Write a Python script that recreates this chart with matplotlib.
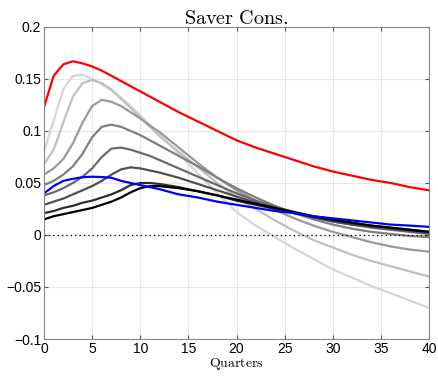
import matplotlib.pyplot as plt

quarters = [0, 1, 2, 3, 4, 5, 6, 7, 8, 9, 10, 11, 12, 14, 16, 18, 20,
            22, 24, 26, 28, 30, 32, 34, 36, 38, 40]

red_line = [0.123, 0.153, 0.164, 0.167, 0.165, 0.162, 0.158, 0.153, 0.148, 0.143,
            0.138, 0.133, 0.128, 0.118, 0.109, 0.100, 0.091, 0.084, 0.078, 0.072,
            0.066, 0.061, 0.057, 0.053, 0.050, 0.046, 0.043]
blue_line = [0.040, 0.047, 0.052, 0.054, 0.0555, 0.056, 0.0557, 0.055, 0.052, 0.050,
             0.048, 0.046, 0.044, 0.039, 0.036, 0.032, 0.029, 0.026, 0.023, 0.021,
             0.018, 0.016, 0.014, 0.012, 0.010, 0.009, 0.0078]

# grey family, lightest first
grey_lines = [
    [0.080, 0.110, 0.140, 0.153, 0.154, 0.150, 0.145, 0.139, 0.132, 0.124,
     0.115, 0.106, 0.097, 0.078, 0.059, 0.040, 0.022, 0.009, -0.002, -0.013,
     -0.023, -0.033, -0.041, -0.049, -0.056, -0.063, -0.070],
    [0.068, 0.082, 0.108, 0.133, 0.146, 0.149, 0.146, 0.140, 0.131, 0.122,
     0.113, 0.104, 0.095, 0.080, 0.065, 0.050, 0.036, 0.025, 0.014, 0.004,
     -0.005, -0.012, -0.019, -0.025, -0.030, -0.035, -0.040],
    [0.058, 0.064, 0.073, 0.088, 0.108, 0.124, 0.130, 0.128, 0.124, 0.118,
     0.112, 0.105, 0.099, 0.084, 0.069, 0.055, 0.043, 0.033, 0.024, 0.016,
     0.009, 0.003, -0.002, -0.007, -0.011, -0.014, -0.016],
    [0.048, 0.052, 0.058, 0.066, 0.078, 0.094, 0.104, 0.106, 0.104, 0.100,
     0.096, 0.091, 0.086, 0.076, 0.066, 0.055, 0.045, 0.036, 0.028, 0.021,
     0.015, 0.010, 0.006, 0.003, 0.001, -0.001, -0.002],
    [0.038, 0.041, 0.045, 0.050, 0.056, 0.064, 0.075, 0.083, 0.084, 0.082,
     0.079, 0.076, 0.072, 0.064, 0.056, 0.048, 0.040, 0.033, 0.027, 0.022,
     0.017, 0.013, 0.010, 0.007, 0.005, 0.003, 0.001],
    [0.029, 0.032, 0.035, 0.039, 0.043, 0.047, 0.052, 0.058, 0.063, 0.065,
     0.064, 0.062, 0.060, 0.055, 0.049, 0.043, 0.037, 0.031, 0.026, 0.021,
     0.017, 0.013, 0.010, 0.008, 0.006, 0.004, 0.002],
    [0.021, 0.023, 0.026, 0.028, 0.031, 0.033, 0.036, 0.039, 0.043, 0.048,
     0.050, 0.050, 0.049, 0.046, 0.042, 0.038, 0.033, 0.029, 0.025, 0.021,
     0.017, 0.014, 0.011, 0.009, 0.007, 0.005, 0.003],
    [0.015, 0.018, 0.020, 0.022, 0.024, 0.026, 0.029, 0.032, 0.036, 0.041,
     0.045, 0.047, 0.047, 0.045, 0.042, 0.038, 0.034, 0.030, 0.026, 0.022,
     0.018, 0.015, 0.012, 0.009, 0.007, 0.005, 0.003],
]
grey_shades = ['#d6d6d6', '#c0c0c0', '#9a9a9a', '#808080', '#6a6a6a', '#505050', '#2e2e2e', '#000000']

plt.rcParams['mathtext.fontset'] = 'cm'
plt.rcParams['font.family'] = ['Liberation Sans', 'DejaVu Sans']

fig = plt.figure(figsize=(4.38, 3.76), dpi=100)
ax = fig.add_axes([0.1005, 0.0984, 0.879, 0.830])

for vals, c in zip(grey_lines, grey_shades):
    ax.plot(quarters, vals, color=c, lw=1.6)
ax.plot(quarters, red_line, color='#ff0000', lw=1.6)
ax.plot(quarters, blue_line, color='#0000ff', lw=1.6)
ax.axhline(0, color='black', lw=0.9, ls=(0, (1, 2.5)))

ax.set_xlim(0, 40)
ax.set_ylim(-0.1, 0.2)
ax.set_xticks(range(0, 41, 5))
ax.set_yticks([-0.1, -0.05, 0, 0.05, 0.1, 0.15, 0.2])
ax.set_yticklabels(['−0.1', '−0.05', '0', '0.05', '0.1', '0.15', '0.2'])
ax.grid(True, color='#e6e6e6', lw=0.8)
ax.set_axisbelow(True)
ax.tick_params(direction='in', length=3, top=True, right=True, labelsize=10,
               color='#555555', pad=2)
for s in ax.spines.values():
    s.set_color('#888888')
    s.set_linewidth(0.8)

ax.set_title(r'$\mathrm{Saver\ Cons.}$', fontsize=14.5, pad=2)
ax.set_xlabel(r'$\mathrm{Quarters}$', fontsize=10, labelpad=0)

fig.savefig('out.png', dpi=100)
